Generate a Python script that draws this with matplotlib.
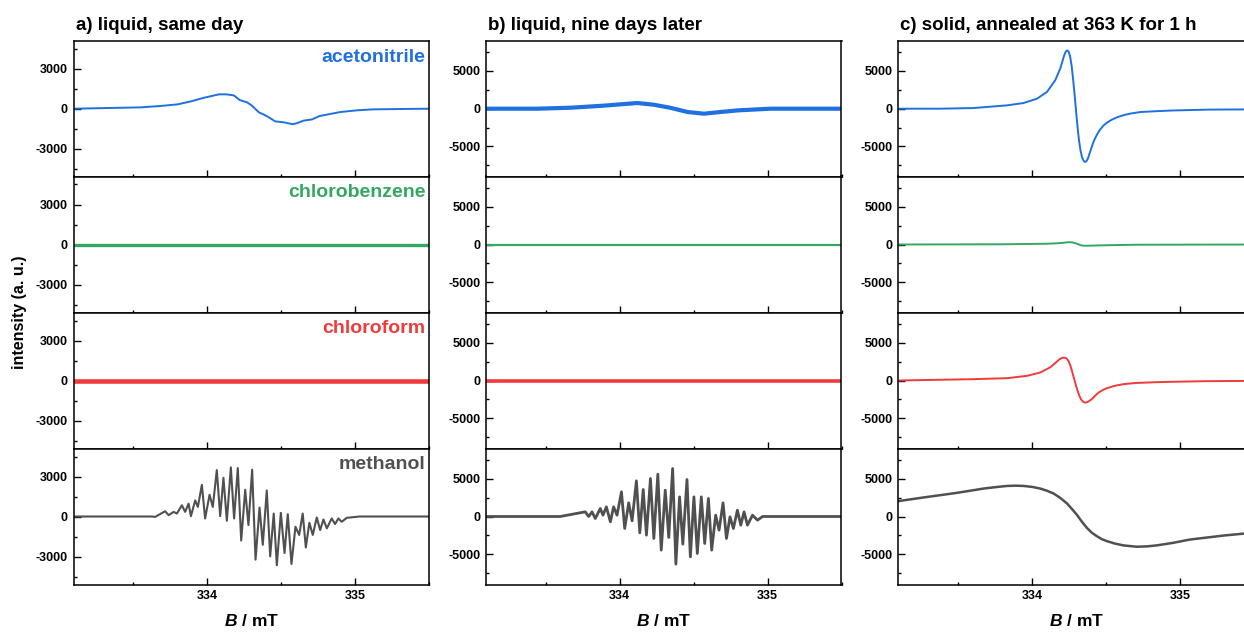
import numpy as np
import matplotlib
matplotlib.use("Agg")
import matplotlib.pyplot as plt
from matplotlib.ticker import MultipleLocator, FixedLocator

plt.rcParams["font.family"] = ["Liberation Sans", "DejaVu Sans"]
plt.rcParams["font.weight"] = "bold"
plt.rcParams["axes.unicode_minus"] = False
plt.rcParams["mathtext.fontset"] = "custom"
plt.rcParams["mathtext.bfit"] = "Liberation Sans:bold:italic"

# ---- data (B in mT, intensity in a.u.) ----
solvents = ["acetonitrile", "chlorobenzene", "chloroform", "methanol"]
colors = ["#1f70e0", "#34a862", "#ef3b3b", "#505050"]
titles = ["a) liquid, same day", "b) liquid, nine days later", "c) solid, annealed at 363 K for 1 h"]

# a) liquid, same day
a_acn_B = [333.10, 333.55, 333.68, 333.80, 333.89, 333.98, 334.03, 334.08, 334.13, 334.18, 334.22, 334.27,
           334.30, 334.35, 334.38, 334.41, 334.46, 334.52, 334.55, 334.58, 334.61, 334.65, 334.71, 334.76,
           334.83, 334.90, 335.01, 335.12, 335.30, 335.50]
a_acn_I = [0, 100, 200, 325, 550, 825, 950, 1080, 1075, 1000, 650, 475,
           250, -275, -425, -600, -950, -1025, -1100, -1160, -1075, -900, -800, -550,
           -400, -250, -125, -50, -25, 0]
a_cb_B = [333.10, 335.50]
a_cb_I = [0, 0]
a_cf_B = [333.10, 335.50]
a_cf_I = [0, 0]
a_me_B = [333.10, 333.62, 333.649, 333.716, 333.739, 333.773, 333.795, 333.829, 333.851, 333.874, 333.890,
          333.919, 333.937, 333.964, 333.986, 334.016, 334.038, 334.065, 334.088, 334.110, 334.133,
          334.160, 334.182, 334.207, 334.230, 334.257, 334.279, 334.304, 334.327, 334.354, 334.376,
          334.403, 334.426, 334.450, 334.471, 334.498, 334.523, 334.545, 334.570, 334.597, 334.622,
          334.646, 334.667, 334.691, 334.714, 334.741, 334.764, 334.786, 334.809, 334.842, 334.865,
          334.887, 334.910, 334.944, 335.03, 335.50]
a_me_I = [0, 0, -25, 395, 99, 346, 222, 840, 346, 963, 25,
          1210, 716, 2371, -148, 1630, 716, 3483, 25, 2900, -321,
          3680, -148, 3631, -1803, 2000, -642, 3507, -3236, 667, -2124,
          1951, -2989, 222, -3656, 272, -2742, 173, -3557, -766, -1383,
          222, -2322, -469, -1383, -74, -1013, -222, -889, -148, -568,
          -148, -395, -99, 0, 0]

# b) liquid, nine days later
b_acn_B = [333.10, 333.44, 333.67, 333.89, 334.00, 334.12, 334.23, 334.34, 334.46, 334.57, 334.68,
           334.80, 335.02, 335.50]
b_acn_I = [0, 0, 130, 400, 570, 750, 530, 130, -440, -660, -440, -220, 0, 0]
b_cb_B = [333.10, 335.50]
b_cb_I = [0, 0]
b_cf_B = [333.10, 335.50]
b_cf_I = [0, 0]
b_me_B = [333.10, 333.598, 333.767, 333.790, 333.813, 333.835, 333.869, 333.887, 333.910, 333.937, 333.959,
          333.982, 334.012, 334.034, 334.061, 334.084, 334.113, 334.136, 334.159, 334.181, 334.208,
          334.231, 334.258, 334.281, 334.308, 334.332, 334.358, 334.380, 334.405, 334.427, 334.455,
          334.478, 334.502, 334.525, 334.552, 334.575, 334.600, 334.622, 334.649, 334.672, 334.699,
          334.722, 334.746, 334.769, 334.796, 334.819, 334.841, 334.864, 334.898, 334.932, 334.966, 335.50]
b_me_I = [0, 0, 617, 0, 617, -265, 1058, 176, 1279, -706, 1279,
          176, 3263, -1588, 1808, -573, 4719, -2161, 3572, -2470, 5027,
          -2911, 5601, -4454, 3484, -2778, 6350, -6306, 2602, -3660, 4895,
          -5336, 2602, -4895, 2602, -3572, 2381, -4454, 176, -1808, 1808,
          -2911, -44, -1588, 838, -1147, 617, -1147, 176, -485, 0, 0]

# c) solid, annealed at 363 K for 1 h
c_acn_B = [333.10, 333.38, 333.605, 333.831, 333.943, 334.034, 334.101, 334.157, 334.191, 334.218, 334.228,
           334.238, 334.248, 334.258, 334.268, 334.278, 334.288, 334.298, 334.308, 334.318, 334.328, 334.338,
           334.348, 334.358, 334.368, 334.378, 334.390, 334.405, 334.420, 334.440, 334.461, 334.485,
           334.507, 334.540, 334.574, 334.620, 334.664, 334.732, 334.85, 334.96, 335.20, 335.60]
c_acn_I = [0, 0, 88, 442, 751, 1326, 2210, 3757, 5304, 7072, 7550,
           7720, 7550, 6900, 5700, 3900, 1900, -300, -2400, -4200, -5500, -6400,
           -6850, -7050, -6950, -6600, -5900, -5000, -4200, -3400, -2750, -2200,
           -1850, -1450, -1150, -850, -650, -442, -320, -230, -120, -80]
c_cb_B = [333.10, 333.80, 334.10, 334.18, 334.22, 334.25, 334.27, 334.29, 334.31, 334.33, 334.35, 334.40,
          334.45, 334.55, 334.70, 335.60]
c_cb_I = [0, 30, 100, 170, 250, 300, 290, 200, 50, -100, -160, -150, -120, -80, -30, 0]
c_cf_B = [333.10, 333.605, 333.831, 333.966, 334.056, 334.124, 334.160, 334.185, 334.205, 334.220, 334.235,
          334.248, 334.260, 334.272, 334.284, 334.296, 334.308, 334.320, 334.332, 334.345, 334.358, 334.372,
          334.388, 334.405, 334.425, 334.450, 334.480, 334.507, 334.560, 334.619, 334.70, 334.845,
          335.00, 335.182, 335.60]
c_cf_I = [0, 176, 307, 615, 1054, 1756, 2350, 2800, 3000, 3030, 2900,
          2550, 1950, 1150, 300, -550, -1350, -2000, -2500, -2800, -2920, -2880,
          -2700, -2450, -2050, -1600, -1250, -1010, -700, -483, -330, -220,
          -150, -88, -40]
c_me_B = [333.10, 333.268, 333.493, 333.673, 333.760, 333.831, 333.890, 333.943, 334.000, 334.056, 334.100,
          334.146, 334.190, 334.236, 334.270, 334.304, 334.338, 334.372, 334.405, 334.439, 334.470, 334.507,
          334.560, 334.619, 334.709, 334.780, 334.845, 334.950, 335.070, 335.295, 335.434, 335.60]
c_me_I = [2045, 2523, 3132, 3698, 3900, 4046, 4080, 4046, 3920, 3698, 3420,
          3045, 2480, 1740, 1000, 218, -700, -1523, -2150, -2610, -2980, -3263,
          -3580, -3828, -4002, -3950, -3820, -3500, -3045, -2523, -2262, -2100]

panels = [
    [(a_acn_B, a_acn_I), (a_cb_B, a_cb_I), (a_cf_B, a_cf_I), (a_me_B, a_me_I)],
    [(b_acn_B, b_acn_I), (b_cb_B, b_cb_I), (b_cf_B, b_cf_I), (b_me_B, b_me_I)],
    [(c_acn_B, c_acn_I), (c_cb_B, c_cb_I), (c_cf_B, c_cf_I), (c_me_B, c_me_I)],
]
# line widths (pt) mimic the thickness of the noisy traces
lws = [
    [1.4, 2.4, 3.3, 1.5],
    [3.0, 1.6, 2.6, 2.0],
    [1.4, 1.4, 1.4, 1.8],
]

W, H = 1244, 632
fig = plt.figure(figsize=(W / 100, H / 100), dpi=100)

col_left = [73.5, 486.0, 898.3]
ax_w = 355.5
row_top = [40.7, 176.5, 312.5, 448.5]
ax_h = 136.0
ylims = [5100, 9000, 9000]
ymaj = [3000, 5000, 5000]

for c in range(3):
    for r in range(4):
        x0 = col_left[c] / W
        y0 = 1 - (row_top[r] + ax_h) / H
        ax = fig.add_axes([x0, y0, ax_w / W, ax_h / H])
        B, I = panels[c][r]
        ax.plot(B, I, color=colors[r], lw=lws[c][r], solid_joinstyle="round")
        ax.set_xlim(333.096, 335.5)
        ax.set_ylim(-ylims[c], ylims[c])
        ax.xaxis.set_major_locator(FixedLocator([334, 335]))
        ax.xaxis.set_minor_locator(FixedLocator([333.5, 334.5, 335.5]))
        ax.yaxis.set_major_locator(MultipleLocator(ymaj[c]))
        ax.yaxis.set_minor_locator(MultipleLocator(ymaj[c] / 2))
        ax.tick_params(which="both", direction="in", top=False, right=False, width=1.0)
        ax.tick_params(which="major", length=5, labelsize=9, pad=4)
        ax.tick_params(which="minor", length=2.5)
        for lab in ax.get_yticklabels() + ax.get_xticklabels():
            lab.set_fontweight("bold")
        for sp in ax.spines.values():
            sp.set_linewidth(1.1)
        if r < 3:
            ax.set_xticklabels([])
        else:
            fig.text((col_left[c] + ax_w / 2) / W, 1 - 621 / H, r"$\mathbfit{B}$ / mT",
                     ha="center", va="center", fontsize=12.5, fontweight="bold")
        if c == 0:
            ax.text(0.99, 0.88, solvents[r], transform=ax.transAxes, ha="right", va="center",
                    color=colors[r], fontsize=14, fontweight="bold")
        if r == 0:
            fig.text((col_left[c] + 2) / W, 1 - 25.5 / H, titles[c], ha="left", va="center",
                     fontsize=13.5, fontweight="bold")

fig.text(20 / W, 1 - 312.6 / H, "intensity (a. u.)", rotation=90, ha="center", va="center",
         fontsize=11.5, fontweight="bold")

fig.savefig("out.png", dpi=100)
